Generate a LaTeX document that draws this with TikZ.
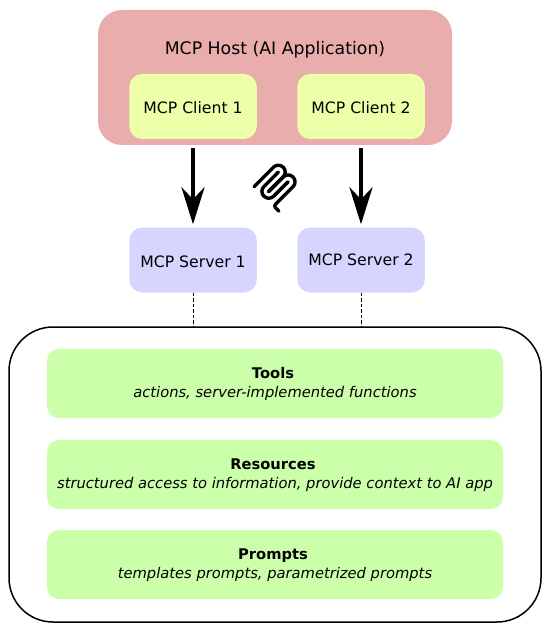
\documentclass[tikz,border=0pt]{standalone}
\usepackage{fontspec}
\setmainfont{DejaVu Sans}
\usetikzlibrary{arrows.meta}
\definecolor{hostc}{HTML}{EAADAD}
\definecolor{clientc}{HTML}{EEFFAA}
\definecolor{serverc}{HTML}{D5D5FF}
\definecolor{greenc}{HTML}{CCFFAA}
\newcommand{\titleline}[1]{\hspace*{-4pt}\textbf{#1}}
\tikzset{
  x=1pt,y=-1pt,
  boxbase/.style={anchor=center,inner sep=0pt,align=center,font=\fontsize{15.7}{19}\selectfont},
  hostbox/.style={boxbase,fill=hostc,rounded corners=24pt,minimum width=354pt,minimum height=135pt},
  hosttext/.style={boxbase,font=\fontsize{17.3}{20}\selectfont},
  clientbox/.style={boxbase,fill=clientc,rounded corners=13pt,minimum width=127.5pt,minimum height=65pt},
  serverbox/.style={boxbase,fill=serverc,rounded corners=13pt,minimum width=127.5pt,minimum height=65pt},
  outerbox/.style={draw=black,line width=1.5pt,rounded corners=44pt,minimum width=532pt,minimum height=295pt,inner sep=0pt},
  itembox/.style={boxbase,fill=greenc,rounded corners=12pt,minimum width=456pt,minimum height=69pt},
  itemtext/.style={boxbase,font=\fontsize{14.7}{19.3}\selectfont},
  flow/.style={line width=4.2pt,-{Stealth[length=37pt,width=23pt,inset=12pt]},shorten <=9pt,shorten >=3pt},
  link/.style={line width=1pt,dash pattern=on 3.5pt off 2pt},
  logo/.style={line width=3.4pt,line cap=round,line join=round}
}
\begin{document}
\begin{tikzpicture}
\useasboundingbox (0,0) rectangle (550,631);
\node[hostbox] (host) at (275,77.5) {};
\node[hosttext] (hostlabel) at (275,50) {MCP Host (AI Application)};
\node[clientbox] (c1) at (193,106.5) {};
\node[clientbox] (c2) at (361,106.5) {};
\node[boxbase] (c1label) at (193,108) {MCP Client 1};
\node[boxbase] (c2label) at (361,108) {MCP Client 2};
\node[serverbox] (s1) at (193,260) {};
\node[serverbox] (s2) at (361,260) {};
\node[boxbase] (s1label) at (193,261.5) {MCP Server 1};
\node[boxbase] (s2label) at (361,260) {MCP Server 2};
\node[outerbox] (outer) at (275,474.5) {};
\node[itembox] (tools) at (275,383.5) {};
\node[itembox] (res) at (275,474.5) {};
\node[itembox] (prompts) at (275,564.5) {};
\node[itemtext] (toolst) at (275,384) {\titleline{Tools}\\\textit{actions, server-implemented functions}};
\node[itemtext] (rest) at (275,475) {\titleline{Resources}\\\textit{structured access to information, provide context to AI app}};
\node[itemtext] (promptst) at (275,565) {\titleline{Prompts}\\\textit{templates prompts, parametrized prompts}};
\draw[flow] (c1) -- (s1);
\draw[flow] (c2) -- (s2);
\draw[link] (s1.south) -- (s1.south |- outer.north);
\draw[link] (s2.south) -- (s2.south |- outer.north);
\begin{scope}[shift={(246.8,158.6)},x=0.287pt,y=-0.287pt,logo]
\draw (25,97.85) -- (92.88,29.97) .. controls (102.26,20.6) and (117.45,20.6) .. (126.82,29.97) .. controls (136.2,39.34) and (136.2,54.54) .. (126.82,63.91) -- (75.56,115.18);
\draw (76.27,114.47) -- (126.82,63.91) .. controls (136.2,54.54) and (151.39,54.54) .. (160.77,63.91) -- (161.12,64.27) .. controls (170.49,73.64) and (170.49,88.83) .. (161.12,98.21) -- (99.72,159.6) .. controls (96.6,162.72) and (96.6,167.79) .. (99.72,170.91) -- (112.33,183.52);
\draw (109.85,46.94) -- (59.65,97.15) .. controls (50.28,106.52) and (50.28,121.71) .. (59.65,131.09) .. controls (69.02,140.46) and (84.22,140.46) .. (93.59,131.09) -- (143.79,80.88);
\end{scope}
\end{tikzpicture}
\end{document}
